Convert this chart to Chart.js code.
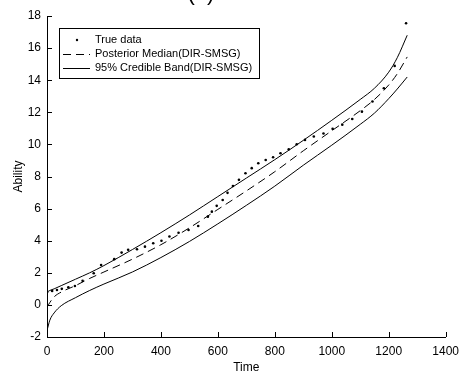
<!DOCTYPE html>
<html>
<head>
<meta charset="utf-8">
<script src="https://cdn.jsdelivr.net/npm/chart.js@4"></script>
<style>
  html, body { margin: 0; padding: 0; background: #fff; }
  canvas { display: block; }
</style>
</head>
<body>
<canvas id="myChart" width="466" height="375"></canvas>
<script>
// 軸の目盛り
const xTicks = [0, 200, 400, 600, 800, 1000, 1200, 1400];
const yTicks = [-2, 0, 2, 4, 6, 8, 10, 12, 14, 16, 18];

// 推定曲線の時刻
const curveTime = [0, 10, 25, 50, 100, 150, 200, 300, 400, 500, 600, 700, 800, 900, 1000, 1100, 1150, 1200, 1230, 1265];
// 事後中央値
const medianLine = [-0.15, 0.15, 0.5, 0.8, 1.2, 1.65, 2.05, 2.85, 3.75, 4.8, 5.95, 7.1, 8.3, 9.6, 10.85, 12.1, 12.8, 13.7, 14.4, 15.45];
// 95%信用区間（上側・下側）
const upperBand = [0.8, 0.9, 1.0, 1.2, 1.6, 2.0, 2.45, 3.45, 4.5, 5.6, 6.75, 7.9, 9.05, 10.25, 11.5, 12.8, 13.5, 14.5, 15.4, 16.8];
const lowerBand = [-1.6, -0.95, -0.5, -0.05, 0.45, 0.9, 1.3, 2.05, 2.95, 3.95, 5.05, 6.2, 7.4, 8.7, 9.95, 11.25, 11.95, 12.85, 13.45, 14.2];

// 真のデータ
const trueTime = [0, 18, 35, 52, 75, 98, 125, 164, 190, 236, 262, 285, 316, 344, 373, 402, 430, 462, 497, 531, 565, 579, 596, 617, 634, 653, 674, 697, 719, 742, 768, 794, 820, 849, 877, 906, 937, 971, 1003, 1037, 1072, 1106, 1143, 1183, 1221, 1261];
const trueValue = [0.79, 0.87, 0.93, 1.0, 1.1, 1.18, 1.5, 1.97, 2.49, 2.85, 3.26, 3.43, 3.47, 3.63, 3.84, 4.0, 4.26, 4.5, 4.67, 4.92, 5.5, 5.81, 6.17, 6.54, 6.98, 7.41, 7.79, 8.2, 8.52, 8.83, 9.03, 9.2, 9.45, 9.7, 10.01, 10.28, 10.49, 10.68, 10.97, 11.23, 11.58, 12.04, 12.67, 13.5, 14.89, 17.55];

const legendLabels = ['True data', 'Posterior Median(DIR-SMSG)', '95% Credible Band(DIR-SMSG)'];

const toPoints = (xs, ys) => xs.map((x, i) => ({ x: x, y: ys[i] }));
const FONT = 'Liberation Sans, Arial, Helvetica, sans-serif';

// 内向きの目盛り線
const innerTicks = {
    id: 'innerTicks',
    afterDraw(chart) {
        const c = chart.ctx;
        const xs = chart.scales.x, ys = chart.scales.y;
        c.save();
        c.strokeStyle = '#000';
        c.lineWidth = 1;
        c.beginPath();
        xTicks.forEach(v => {
            const px = Math.round(xs.getPixelForValue(v)) + 0.5;
            c.moveTo(px, ys.bottom);
            c.lineTo(px, ys.bottom - 5);
        });
        yTicks.forEach(v => {
            const py = Math.round(ys.getPixelForValue(v)) + 0.5;
            c.moveTo(xs.left, py);
            c.lineTo(xs.left + 5, py);
        });
        c.stroke();
        c.restore();
    }
};

// 凡例（枠付き）とタイトル
const boxLegend = {
    id: 'boxLegend',
    afterDraw(chart) {
        const c = chart.ctx;
        const x0 = 59.5, y0 = 28.5, w = 200, h = 50;
        c.save();
        c.fillStyle = '#fff';
        c.fillRect(x0, y0, w, h);
        c.strokeStyle = '#000';
        c.lineWidth = 1;
        c.strokeRect(x0, y0, w, h);
        c.font = '11px ' + FONT;
        c.fillStyle = '#000';
        c.textBaseline = 'middle';
        const rows = [40, 54, 68];
        rows.forEach((ry, i) => c.fillText(legendLabels[i], 95, ry));
        // 点
        c.beginPath();
        c.arc(77, rows[0], 1.2, 0, Math.PI * 2);
        c.fill();
        // 破線
        c.beginPath();
        c.setLineDash([8, 5]);
        c.moveTo(63, rows[1] + 0.5);
        c.lineTo(90, rows[1] + 0.5);
        c.stroke();
        // 実線
        c.setLineDash([]);
        c.beginPath();
        c.moveTo(63, rows[2] + 0.5);
        c.lineTo(90, rows[2] + 0.5);
        c.stroke();
        // 上端で切れたタイトル
        c.font = '22px ' + FONT;
        c.textAlign = 'center';
        c.textBaseline = 'alphabetic';
        c.fillText('(a)', 201, 0);
        c.restore();
    }
};

const ctx = document.getElementById('myChart').getContext('2d');

const myChart = new Chart(ctx, {
    type: 'scatter',
    data: {
        datasets: [
            {
                label: legendLabels[0],
                data: toPoints(trueTime, trueValue),
                showLine: false,
                pointRadius: 1.3,
                pointBackgroundColor: '#000',
                pointBorderWidth: 0
            },
            {
                label: legendLabels[1],
                data: toPoints(curveTime, medianLine),
                showLine: true,
                borderColor: '#000',
                borderWidth: 1,
                borderDash: [8, 5],
                pointRadius: 0,
                cubicInterpolationMode: 'monotone'
            },
            {
                label: legendLabels[2],
                data: toPoints(curveTime, upperBand),
                showLine: true,
                borderColor: '#000',
                borderWidth: 1,
                pointRadius: 0,
                cubicInterpolationMode: 'monotone'
            },
            {
                label: legendLabels[2],
                data: toPoints(curveTime, lowerBand),
                showLine: true,
                borderColor: '#000',
                borderWidth: 1,
                pointRadius: 0,
                cubicInterpolationMode: 'monotone'
            }
        ]
    },
    options: {
        responsive: false,
        animation: false,
        layout: { padding: { top: 16, right: 11, left: 0, bottom: 0 } },
        plugins: { legend: { display: false }, tooltip: { enabled: false } },
        scales: {
            x: {
                type: 'linear',
                min: 0, max: 1400,
                afterBuildTicks: s => { s.ticks = xTicks.map(v => ({ value: v })); },
                afterFit: s => { s.height = 38; },
                grid: { drawOnChartArea: false, drawTicks: false },
                border: { display: true, color: '#000', width: 1 },
                ticks: { color: '#000', padding: 7, font: { family: FONT, size: 12 }, maxRotation: 0, callback: v => String(v) },
                title: { display: true, text: 'Time', color: '#000', padding: { top: 0, bottom: 0 }, font: { family: FONT, size: 12 } }
            },
            y: {
                type: 'linear',
                min: -2, max: 18,
                afterBuildTicks: s => { s.ticks = yTicks.map(v => ({ value: v })); },
                afterFit: s => { s.width = 47; },
                grid: { drawOnChartArea: false, drawTicks: false },
                border: { display: true, color: '#000', width: 1 },
                ticks: { color: '#000', padding: 6, font: { family: FONT, size: 12 }, callback: v => String(v) },
                title: { display: true, text: 'Ability', color: '#000', padding: { top: 11, bottom: 0 }, font: { family: FONT, size: 12 } }
            }
        }
    },
    plugins: [innerTicks, boxLegend]
});
</script>
</body>
</html>
